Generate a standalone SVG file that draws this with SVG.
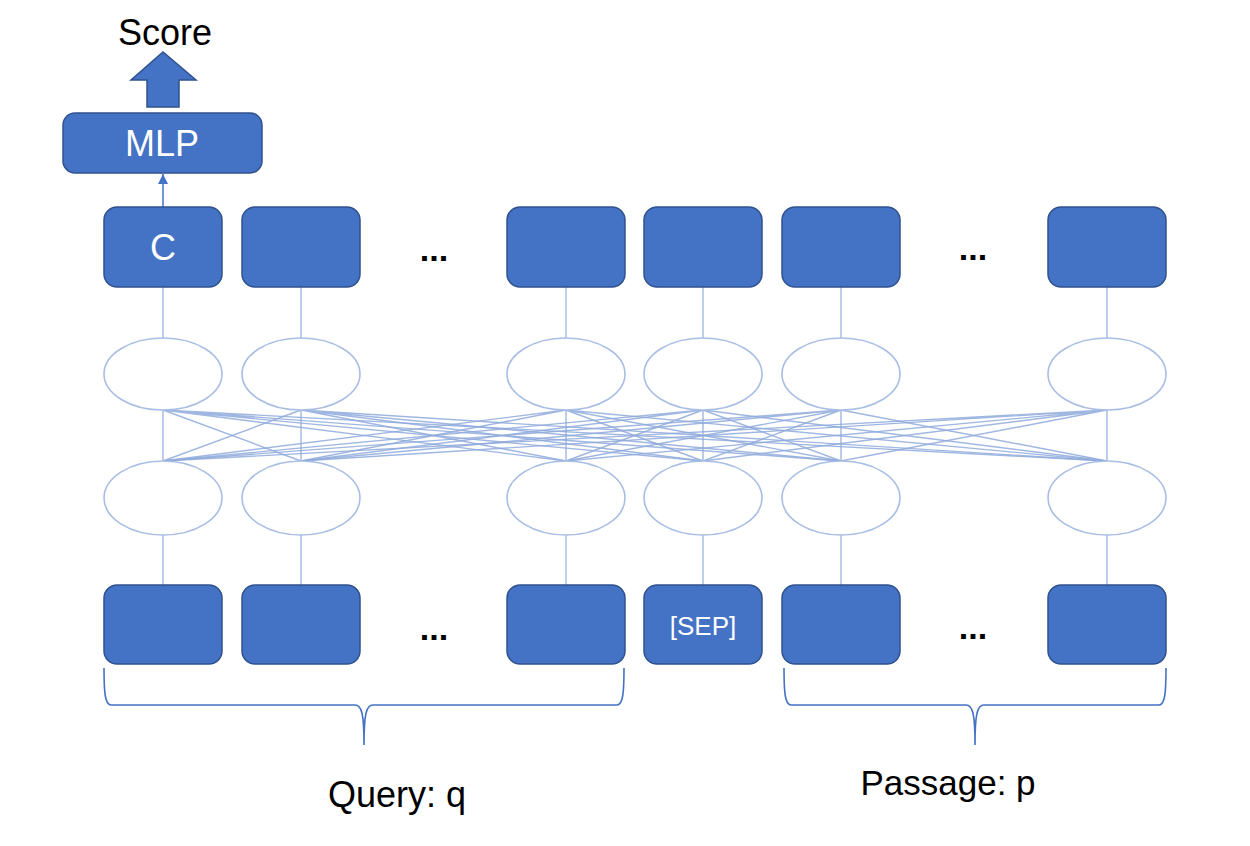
<svg xmlns="http://www.w3.org/2000/svg" width="1250" height="846" viewBox="0 0 1250 846">
<style>
.box{fill:#4472C4;stroke:#2F528F;stroke-width:1.5}
.ell{fill:#fff;stroke:#A9BEE4;stroke-width:1.6}
.vl{stroke:#A9BEE4;stroke-width:1.5;fill:none}
.x{stroke:#8FAADC;stroke-width:1.4;opacity:0.85;fill:none}
.brace{fill:none;stroke:#4472C4;stroke-width:1.6}
.wt{fill:#fff;font-family:"Liberation Sans",Arial,sans-serif;text-anchor:middle}
.bt{fill:#000;font-family:"Liberation Sans",Arial,sans-serif;text-anchor:middle}
.dots{fill:#000;font-family:"Liberation Sans",Arial,sans-serif;font-weight:bold;font-size:34px;text-anchor:middle}
</style>
<defs>
<marker id="ah" viewBox="0 0 10 10" refX="10" refY="5" markerWidth="10" markerHeight="13" markerUnits="userSpaceOnUse" orient="auto">
<path d="M0,0 L10,5 L0,10 z" fill="#4472C4"/>
</marker>
</defs>
<rect width="1250" height="846" fill="#fff"/>
<g id="connectors">
<line class="vl" x1="163" y1="287" x2="163" y2="338"/>
<line class="vl" x1="301" y1="287" x2="301" y2="338"/>
<line class="vl" x1="566" y1="287" x2="566" y2="338"/>
<line class="vl" x1="703" y1="287" x2="703" y2="338"/>
<line class="vl" x1="841" y1="287" x2="841" y2="338"/>
<line class="vl" x1="1107" y1="287" x2="1107" y2="338"/>
<line class="vl" x1="163" y1="535" x2="163" y2="585"/>
<line class="vl" x1="301" y1="535" x2="301" y2="585"/>
<line class="vl" x1="566" y1="535" x2="566" y2="585"/>
<line class="vl" x1="703" y1="535" x2="703" y2="585"/>
<line class="vl" x1="841" y1="535" x2="841" y2="585"/>
<line class="vl" x1="1107" y1="535" x2="1107" y2="585"/>
<g id="mesh">
<path class="x" d="M163,410 L163,461 M163,410 L301,461 M163,410 L566,461 M163,410 L703,461 M163,410 L841,461 M163,410 L1107,461"/>
<path class="x" d="M301,410 L163,461 M301,410 L301,461 M301,410 L566,461 M301,410 L703,461 M301,410 L841,461 M301,410 L1107,461"/>
<path class="x" d="M566,410 L163,461 M566,410 L301,461 M566,410 L566,461 M566,410 L703,461 M566,410 L841,461 M566,410 L1107,461"/>
<path class="x" d="M703,410 L163,461 M703,410 L301,461 M703,410 L566,461 M703,410 L703,461 M703,410 L841,461 M703,410 L1107,461"/>
<path class="x" d="M841,410 L163,461 M841,410 L301,461 M841,410 L566,461 M841,410 L703,461 M841,410 L841,461 M841,410 L1107,461"/>
<path class="x" d="M1107,410 L163,461 M1107,410 L301,461 M1107,410 L566,461 M1107,410 L703,461 M1107,410 L841,461 M1107,410 L1107,461"/>
</g>
<line x1="163" y1="207" x2="163" y2="174" stroke="#4472C4" stroke-width="1.5" marker-end="url(#ah)"/>
</g>
<g id="score-arrow">
<path d="M147,107 L147,80 L131,80 L163,52 L196,80 L179,80 L179,107 Z" fill="#4472C4" stroke="#2F528F" stroke-width="1.5"/>
</g>
<g id="score"><text class="bt" x="165" y="45" font-size="36">Score</text></g>
<g id="mlp">
<rect class="box" x="63" y="113" width="199" height="60" rx="12"/>
<text class="wt" x="162" y="156" font-size="36">MLP</text>
</g>
<g id="top-row">
<g id="t1"><rect class="box" x="104" y="207" width="118" height="80" rx="13"/><text class="wt" x="163" y="260" font-size="36">C</text></g>
<g id="t2"><rect class="box" x="242" y="207" width="118" height="80" rx="13"/></g>
<g id="t3"><rect class="box" x="507" y="207" width="118" height="80" rx="13"/></g>
<g id="t4"><rect class="box" x="644" y="207" width="118" height="80" rx="13"/></g>
<g id="t5"><rect class="box" x="782" y="207" width="118" height="80" rx="13"/></g>
<g id="t6"><rect class="box" x="1048" y="207" width="118" height="80" rx="13"/></g>
<text class="dots" x="434" y="261">...</text>
<text class="dots" x="973" y="260">...</text>
</g>
<g id="upper-ellipses">
<ellipse id="u1" class="ell" cx="163" cy="374" rx="59" ry="36"/>
<ellipse id="u2" class="ell" cx="301" cy="374" rx="59" ry="36"/>
<ellipse id="u3" class="ell" cx="566" cy="374" rx="59" ry="36"/>
<ellipse id="u4" class="ell" cx="703" cy="374" rx="59" ry="36"/>
<ellipse id="u5" class="ell" cx="841" cy="374" rx="59" ry="36"/>
<ellipse id="u6" class="ell" cx="1107" cy="374" rx="59" ry="36"/>
</g>
<g id="lower-ellipses">
<ellipse id="l1" class="ell" cx="163" cy="498" rx="59" ry="37"/>
<ellipse id="l2" class="ell" cx="301" cy="498" rx="59" ry="37"/>
<ellipse id="l3" class="ell" cx="566" cy="498" rx="59" ry="37"/>
<ellipse id="l4" class="ell" cx="703" cy="498" rx="59" ry="37"/>
<ellipse id="l5" class="ell" cx="841" cy="498" rx="59" ry="37"/>
<ellipse id="l6" class="ell" cx="1107" cy="498" rx="59" ry="37"/>
</g>
<g id="bottom-row">
<g id="b1"><rect class="box" x="104" y="585" width="118" height="79" rx="13"/></g>
<g id="b2"><rect class="box" x="242" y="585" width="118" height="79" rx="13"/></g>
<g id="b3"><rect class="box" x="507" y="585" width="118" height="79" rx="13"/></g>
<g id="b4"><rect class="box" x="644" y="585" width="118" height="79" rx="13"/><text class="wt" x="703" y="635" font-size="26">[SEP]</text></g>
<g id="b5"><rect class="box" x="782" y="585" width="118" height="79" rx="13"/></g>
<g id="b6"><rect class="box" x="1048" y="585" width="118" height="79" rx="13"/></g>
<text class="dots" x="434" y="640">...</text>
<text class="dots" x="973" y="639">...</text>
</g>
<g id="query-brace">
<path class="brace" d="M104,668 C104,692 105,705 111,705 L355,705 C362,705 364,715 364,745 C364,715 366,705 373,705 L617,705 C623,705 624,692 624,668"/>
<text class="bt" x="397" y="807" font-size="36">Query: q</text>
</g>
<g id="passage-brace">
<path class="brace" d="M784,668 C784,692 785,705 791,705 L966,705 C973,705 975,715 975,745 C975,715 977,705 984,705 L1159,705 C1165,705 1166,692 1166,668"/>
<text class="bt" x="948" y="795" font-size="35">Passage: p</text>
</g>
</svg>
